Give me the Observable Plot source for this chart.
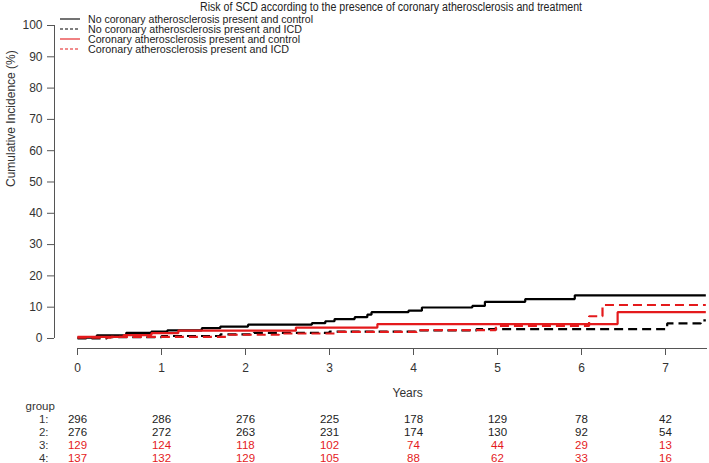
<!DOCTYPE html>
<html>
<head>
<meta charset="utf-8">
<script src="https://cdn.jsdelivr.net/npm/d3@7"></script>
<script src="https://cdn.jsdelivr.net/npm/@observablehq/plot@0.6"></script>
<style>
  html, body { margin: 0; padding: 0; background: #fff; }
  #wrap { position: relative; width: 709px; height: 463px; font-family: "Liberation Sans", Arial, sans-serif; }
  #overlay { position: absolute; left: 0; top: 0; pointer-events: none; }
</style>
</head>
<body>
<div id="wrap">
  <div id="chart"></div>
  <svg id="overlay" width="709" height="60"></svg>
</div>
<script>
// ---- data ----
const titleText = "Risk of SCD according to the presence of coronary atherosclerosis and treatment";
const seriesNames = [
  "No coronary atherosclerosis present and control",
  "No coronary atherosclerosis present and ICD",
  "Coronary atherosclerosis present and control",
  "Coronary atherosclerosis present and ICD"
];
const seriesColors = ["#000000", "#000000", "#e41a1c", "#e41a1c"];
const seriesDash = [null, "9,5", null, "9,5"];

const g1Time = [0, 0.23, 0.58, 0.88, 1.07, 1.48, 1.70, 2.03, 2.79, 2.95, 3.06, 3.30, 3.45, 3.50, 3.94, 4.10, 4.70, 4.85, 5.33, 5.92, 7.48];
const g1Risk = [0.3, 1.0, 1.8, 2.2, 2.6, 3.3, 3.8, 4.4, 4.9, 5.5, 6.2, 6.8, 7.6, 8.4, 8.9, 9.9, 10.4, 11.7, 12.6, 13.8, 13.8];

const g2Time = [0, 0.35, 1.0, 1.7, 2.1, 3.0, 4.05, 4.75, 7.02, 7.42, 7.48];
const g2Risk = [0, 0.4, 0.8, 1.3, 1.8, 2.2, 2.6, 3.0, 4.8, 5.8, 5.8];

const g3Time = [0, 0.55, 0.88, 1.2, 2.6, 3.57, 6.43, 7.48];
const g3Risk = [0.5, 1.1, 1.7, 2.5, 3.5, 4.6, 8.4, 8.4];

const g4Time = [0, 0.4, 1.8, 2.4, 3.1, 4.04, 4.98, 6.09, 6.25, 7.48];
const g4Risk = [0.3, 0.5, 1.2, 1.6, 2.1, 2.7, 4.0, 7.1, 10.7, 10.7];

const yearTicks = [0, 1, 2, 3, 4, 5, 6, 7];
const yTicks = [0, 10, 20, 30, 40, 50, 60, 70, 80, 90, 100];
const atRisk1 = [296, 286, 276, 225, 178, 129, 78, 42];
const atRisk2 = [276, 272, 263, 231, 174, 130, 92, 54];
const atRisk3 = [129, 124, 118, 102, 74, 44, 29, 13];
const atRisk4 = [137, 132, 129, 105, 88, 62, 33, 16];
const groupLabels = ["1:", "2:", "3:", "4:"];

// ---- build ----
const FONT = "'Liberation Sans', Arial, sans-serif";
const curves = [[g1Time, g1Risk], [g2Time, g2Risk], [g3Time, g3Risk], [g4Time, g4Risk]];
const xDomain = [-0.274, 7.5];
const yDomain = [-3.2, 100];
const atRisk = [atRisk1, atRisk2, atRisk3, atRisk4];
const tableColors = ["#222", "#222", "#e41a1c", "#e41a1c"];
const rowDy = [74, 87, 100, 113];

const marks = [];
marks.push(Plot.ruleX([xDomain[0]], {y1: yTicks[0], y2: yTicks[yTicks.length - 1], stroke: "#555"}));
marks.push(Plot.ruleY([yDomain[0]], {x1: 0, x2: xDomain[1], stroke: "#555"}));
marks.push(Plot.axisY({ticks: yTicks, tickSize: 7, tickPadding: 5, label: null, stroke: "#555", fill: "#333"}));
marks.push(Plot.axisX({ticks: yearTicks, tickSize: 7, tickPadding: 8, label: null, stroke: "#555", fill: "#333"}));

curves.forEach(([t, r], i) => {
  const data = t.map((d, j) => ({t: d, r: r[j]}));
  marks.push(Plot.line(data, {
    x: "t", y: "r", curve: "step-after",
    stroke: seriesColors[i], strokeWidth: 2.2,
    strokeDasharray: seriesDash[i], strokeLinecap: "butt", strokeLinejoin: "miter"
  }));
});

marks.push(Plot.text(["Cumulative Incidence (%)"], {frameAnchor: "left", dx: -43, rotate: -90, fill: "#333", fontSize: 12}));
marks.push(Plot.text(["Years"], {frameAnchor: "bottom-left", dx: 392 - 54, dy: 48, fill: "#333", fontSize: 12}));
marks.push(Plot.text(["group"], {frameAnchor: "bottom-left", dx: 25 - 54, dy: 61, textAnchor: "start", fill: "#333", fontSize: 11.5}));

atRisk.forEach((vals, i) => {
  marks.push(Plot.text(vals, {x: (d, j) => yearTicks[j], frameAnchor: "bottom", dy: rowDy[i], fill: tableColors[i], fontSize: 11.5}));
  marks.push(Plot.text([groupLabels[i]], {frameAnchor: "bottom-left", dx: 48 - 54, dy: rowDy[i], textAnchor: "end", fill: "#333", fontSize: 11.5}));
});

const chart = Plot.plot({
  width: 709,
  height: 463,
  marginLeft: 54,
  marginRight: 2,
  marginTop: 25,
  marginBottom: 115,
  x: {domain: xDomain},
  y: {domain: yDomain},
  style: {fontFamily: FONT, fontSize: "12px", background: "#fff", overflow: "visible"},
  marks
});
document.getElementById("chart").appendChild(chart);

// title + legend overlay
const ov = d3.select("#overlay");
ov.append("text").attr("x", 391).attr("y", 7).attr("dy", "0.35em")
  .attr("text-anchor", "middle").attr("font-size", 12).attr("fill", "#222")
  .attr("font-family", FONT)
  .attr("textLength", 382).attr("lengthAdjust", "spacingAndGlyphs")
  .text(titleText);

const legendWidths = [225, 214, 212, 201];
seriesNames.forEach((name, i) => {
  const y = 19 + i * 10;
  ov.append("line").attr("x1", 60).attr("x2", 80).attr("y1", y).attr("y2", y)
    .attr("stroke", seriesColors[i]).attr("stroke-width", 1.1)
    .attr("stroke-dasharray", seriesDash[i] ? "3,2" : null);
  ov.append("text").attr("x", 88).attr("y", y).attr("dy", "0.35em")
    .attr("font-size", 10).attr("fill", "#222")
    .attr("font-family", FONT)
    .attr("textLength", legendWidths[i]).attr("lengthAdjust", "spacingAndGlyphs")
    .text(name);
});
</script>
</body>
</html>
